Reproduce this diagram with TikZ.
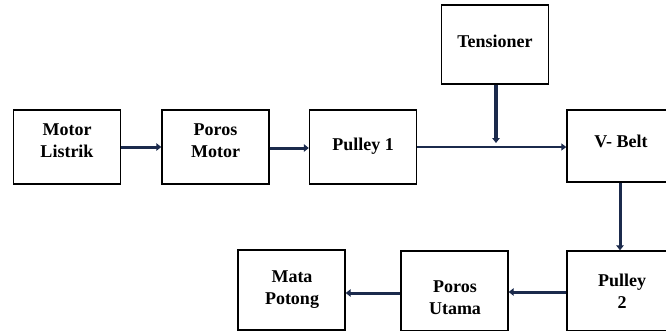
\documentclass[tikz,border=0pt]{standalone}
\usepackage{fontspec}
\setmainfont{Liberation Serif}
\usetikzlibrary{arrows.meta}
\definecolor{navy}{HTML}{1B2A4C}
\tikzset{
  box/.style={draw=black, line width=1.4pt, minimum width=107pt, minimum height=74pt, inner sep=0pt},
  lbl/.style={font=\fontsize{18}{22}\selectfont\bfseries, align=center, inner sep=0pt},
  conn/.style={draw=navy, line width=3pt, -{Triangle[length=5pt,width=7.5pt]}},
  thin conn/.style={draw=navy, line width=2.2pt, -{Triangle[length=5pt,width=7pt]}},
}
\begin{document}
\begin{tikzpicture}[x=1pt,y=-1pt]
\useasboundingbox (0,0) rectangle (666,330);
\clip (0,0) rectangle (666,330);
% boxes
\node[box] (ml) at (67,147) {};
\node[box] (pm) at (215.5,147) {};
\node[box] (p1) at (363,147) {};
\node[box, minimum height=79pt] (tn) at (495,44.5) {};
\node[box, minimum height=72pt] (vb) at (620.5,146) {};
\node[box, minimum height=80pt] (p2) at (620.5,291) {};
\node[box, minimum height=80pt] (pu) at (454.5,291) {};
\node[box, minimum height=80pt] (mp) at (291.5,290) {};
% labels
\node[lbl] (tml) at (67,141) {Motor\\Listrik};
\node[lbl] (tpm) at (215.5,141) {Poros\\Motor};
\node[lbl] (tp1) at (363,146) {Pulley 1};
\node[lbl] (ttn) at (495,41) {Tensioner};
\node[lbl] (tvb) at (621,141) {V- Belt};
\node[lbl] (tp2) at (622,291) {Pulley\\2};
\node[lbl] (tpu) at (455,298) {Poros\\Utama};
\node[lbl] (tmp) at (292,290) {Mata\\Potong};
% junction
\coordinate (j) at (496,147);
% connectors
\draw[conn] (ml.east |- 0,147) -- (pm.west |- 0,147);
\draw[conn] (pm.east |- 0,148) -- (p1.west |- 0,148);
\draw[thin conn] (p1.east |- 0,147) -- (vb.west |- 0,147);
\draw[conn, line width=3.6pt] (tn.south -| j) -- ([yshift=4pt]j);
\draw[conn] (vb.south -| 620,0) -- (p2.north -| 620,0);
\draw[conn] (p2.west |- 0,292) -- (pu.east |- 0,292);
\draw[conn] (pu.west |- 0,293) -- (mp.east |- 0,293);
\end{tikzpicture}
\end{document}
